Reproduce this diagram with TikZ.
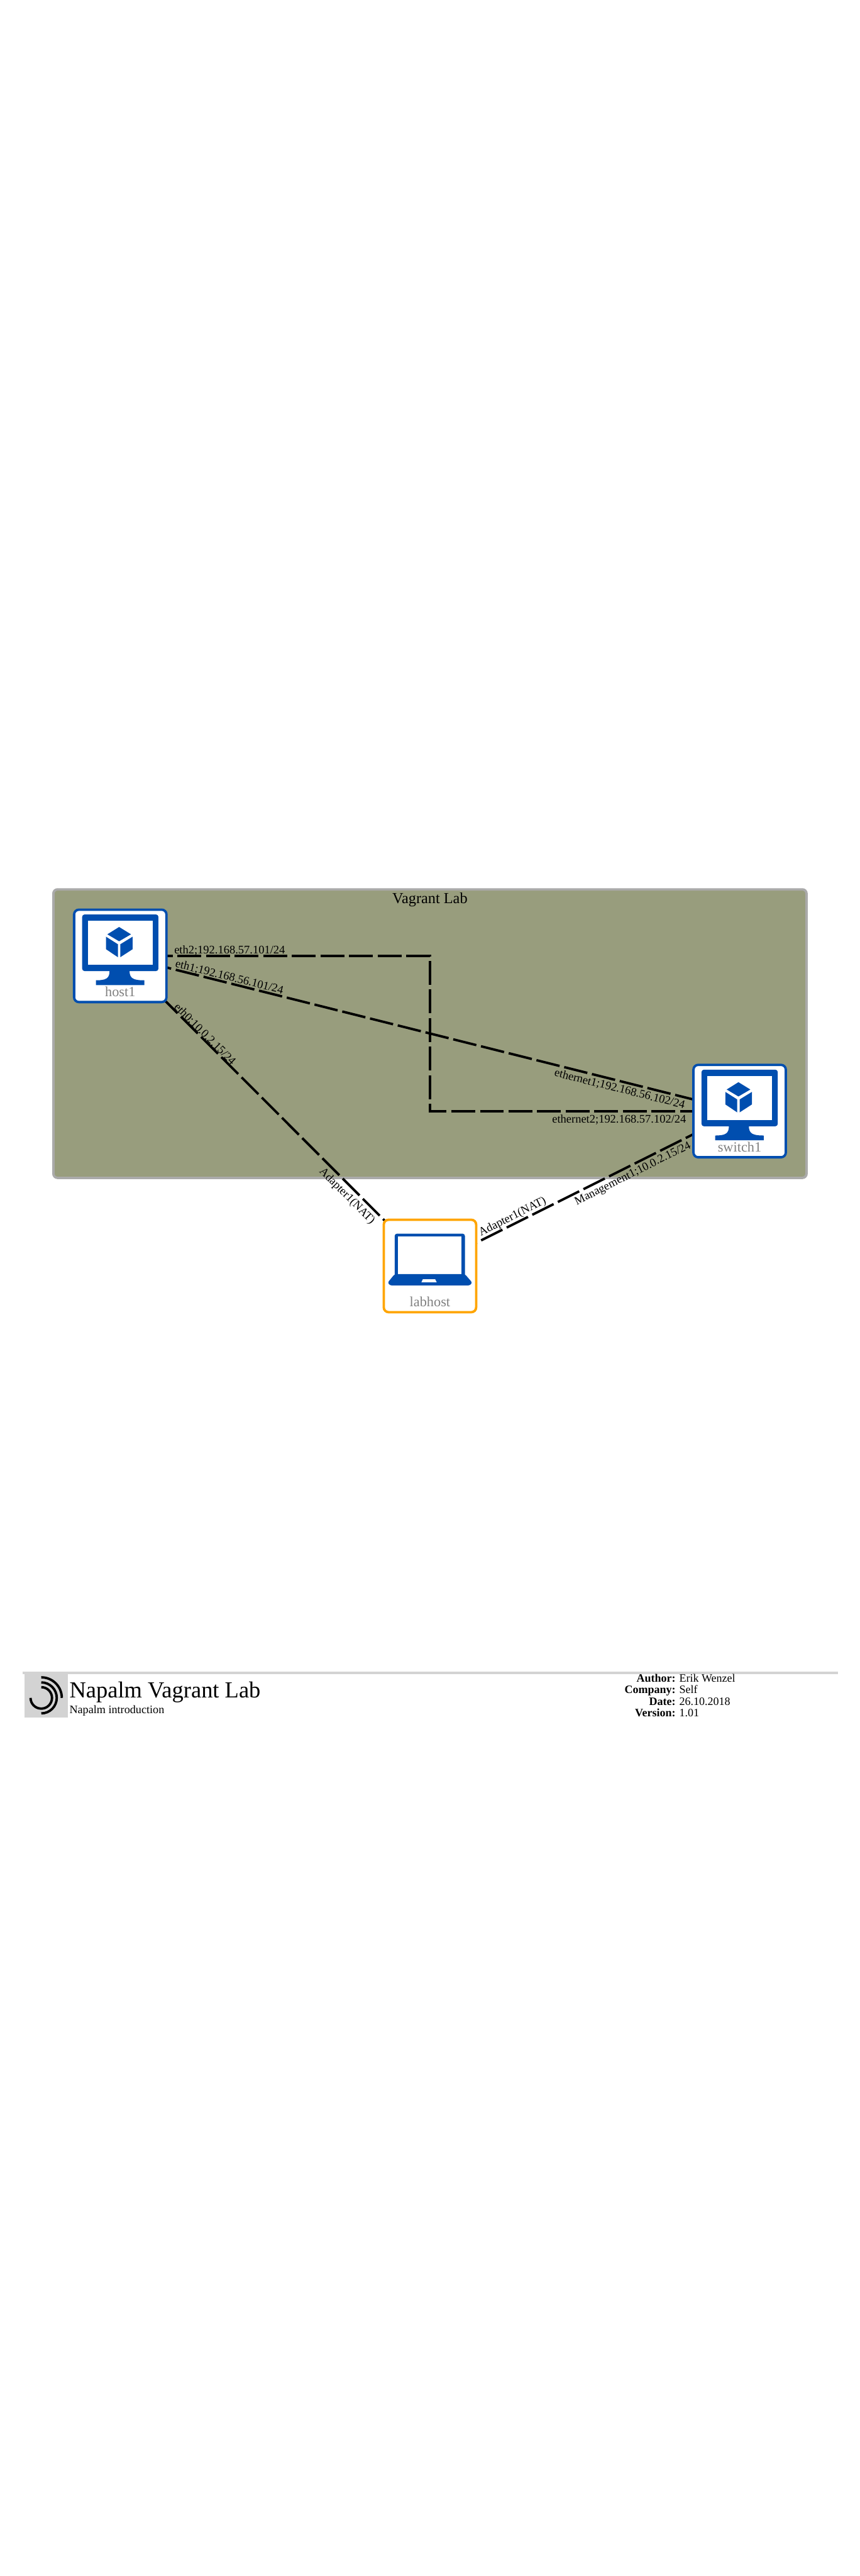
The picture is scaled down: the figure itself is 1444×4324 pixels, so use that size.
\documentclass[tikz,border=0pt]{standalone}
\usepackage{fontspec}
\setmainfont{Liberation Serif}
\usetikzlibrary{calc}
\pgfdeclarelayer{edgelayer}
\pgfsetlayers{edgelayer,main}
\definecolor{labgreen}{RGB}{152,157,125}
\definecolor{labframe}{RGB}{170,170,170}
\definecolor{iconblue}{RGB}{0,78,175}
\definecolor{hostorange}{RGB}{255,165,0}
\definecolor{footgray}{RGB}{211,211,211}
\tikzset{
  vmbox/.style={draw=iconblue, fill=white, line width=0.04cm, rounded corners=0.08cm, inner sep=0, minimum width=1.55cm, minimum height=1.55cm},
  laptopbox/.style={vmbox, draw=hostorange},
  boxtext/.style={anchor=base, inner sep=0, text=gray, font=\fontsize{6.7}{7}\selectfont},
  linklabel/.style={anchor=base west, inner sep=0, font=\fontsize{5.55}{6}\selectfont},
  link/.style={line width=0.04cm, dash pattern=on 0.40cm off 0.08cm},
  logoarc/.style={line width=0.04cm},
  pics/vmicon/.style={code={
    \fill[iconblue, rounded corners=0.04cm] (-64,-69.5) rectangle (64,25.5);
    \fill[white] (-54,-59) rectangle (54,15);
    \fill[iconblue] (-18,25) .. controls (-18,38) and (-24,41) .. (-41,41) -- (-41,49) -- (40.5,49) -- (40.5,41) .. controls (22,41) and (15.5,38) .. (15.5,25) -- cycle;
    \fill[iconblue] (-2,-48.5) -- (18,-36.2) -- (-2,-24.5) -- (-21.7,-36.2) -- cycle;
    \fill[iconblue] (-24,-32.2) -- (-4,-19.5) -- (-4,2.2) -- (-24,-11.2) -- cycle;
    \fill[iconblue] (0,-19.5) -- (20.7,-32.2) -- (20.7,-11.2) -- (0,2.2) -- cycle;
  }},
  pics/laptopicon/.style={code={
    \fill[iconblue, rounded corners=0.04cm] (-59.3,20) -- (-59.3,-54.3) -- (58.7,-54.3) -- (58.7,20) -- cycle;
    \fill[white] (-53.7,-49.3) rectangle (53,13.7);
    \fill[iconblue, rounded corners=0.03cm] (-59.3,13.7) -- (-71,28) -- (-67,32.7) -- (67,32.7) -- (71,28) -- (58.7,13.7) -- cycle;
    \fill[white] (-12,22.3) -- (8.7,22.3) -- (11.3,27.3) -- (-14.3,27.3) -- cycle;
  }},
}

\begin{document}
\begin{tikzpicture}[x=0.01cm, y=-0.01cm]
\useasboundingbox (0,0) rectangle (1444,4324);

% Lab area
\begin{pgfonlayer}{edgelayer}
\node[draw=labframe, fill=labgreen, line width=0.04cm, rounded corners=0.07cm, inner sep=0, minimum width=12.64cm, minimum height=4.84cm] (vagrantlab) at (722,1735) {};
\end{pgfonlayer}
\node[anchor=base, inner sep=0, font=\fontsize{7.3}{8}\selectfont] (labtitle) at (722,1516.7) {Vagrant Lab};

% Devices
\node[vmbox] (host1) at (202,1604.5) {};
\pic at (host1) {vmicon};
\node[boxtext] (host1text) at ($(host1)+(0,68)$) {host1};

\node[vmbox] (switch1) at (1242,1865) {};
\pic at (switch1) {vmicon};
\node[boxtext] (switch1text) at ($(switch1)+(0,68)$) {switch1};

\node[laptopbox] (labhost) at (722,2125) {};
\pic at (labhost) {laptopicon};
\node[boxtext] (labhosttext) at ($(labhost)+(0,68)$) {labhost};

% Links
\coordinate (midlink) at ($(host1)!0.5!(switch1)$);
\begin{pgfonlayer}{edgelayer}
\draw[link] (host1.center) -| (midlink) |- (switch1.center);
\draw[link] (host1.center) -- (switch1.center);
\draw[link] (host1.center) -- (labhost.center);
\draw[link] (labhost.center) -- (switch1.center);
\end{pgfonlayer}

% Link labels
\node[linklabel] (eth2label) at (292,1600.7) {eth2;192.168.57.101/24};
\node[linklabel, rotate=-14.04] (eth1label) at (293,1623) {eth1;192.168.56.101/24};
\node[linklabel, rotate=-45] (eth0label) at (291,1691) {eth0;10.0.2.15/24};
\node[linklabel, rotate=-45] (adapterlabela) at (535,1967) {Adapter1(NAT)};
\node[linklabel, rotate=26.57] (adapterlabelb) at (807,2075) {Adapter1(NAT)};
\node[linklabel, rotate=26.57] (mgmtlabel) at (968,2023) {Management1;10.0.2.15/24};
\node[linklabel, rotate=-14.04] (ethernetlabela) at (929.5,1806) {ethernet1;192.168.56.102/24};
\node[linklabel] (ethernetlabelb) at (926.5,1885) {ethernet2;192.168.57.102/24};

% Footer
\draw[footgray, line width=0.04cm] (38.3,2808) -- (1407.3,2808);
\fill[footgray] (40.7,2810) rectangle (114,2883);
\foreach \r/\e in {34.5/0,26/-90,18/-180}
  \draw[logoarc] (69.3,{2850-\r}) arc[start angle=90, end angle=\e, radius=\r*0.01cm];
\node[anchor=base west, inner sep=0, font=\fontsize{10.95}{12}\selectfont] (doctitle) at (116,2849.3) {Napalm Vagrant Lab};
\node[anchor=base west, inner sep=0, font=\fontsize{5.45}{6}\selectfont] (docsub) at (116,2876) {Napalm introduction};
\foreach \n/\k/\v/\y in {author/Author/Erik Wenzel/2823.3, company/Company/Self/2842.7, date/Date/26.10.2018/2862.3, version/Version/1.01/2881.7} {
  \node[anchor=base east, inner sep=0, font=\fontsize{5.4}{6}\selectfont\bfseries] (\n key) at (1135,\y) {\k:};
  \node[anchor=base west, inner sep=0, font=\fontsize{5.4}{6}\selectfont] (\n val) at (1140,\y) {\v};
}

\end{tikzpicture}
\end{document}
